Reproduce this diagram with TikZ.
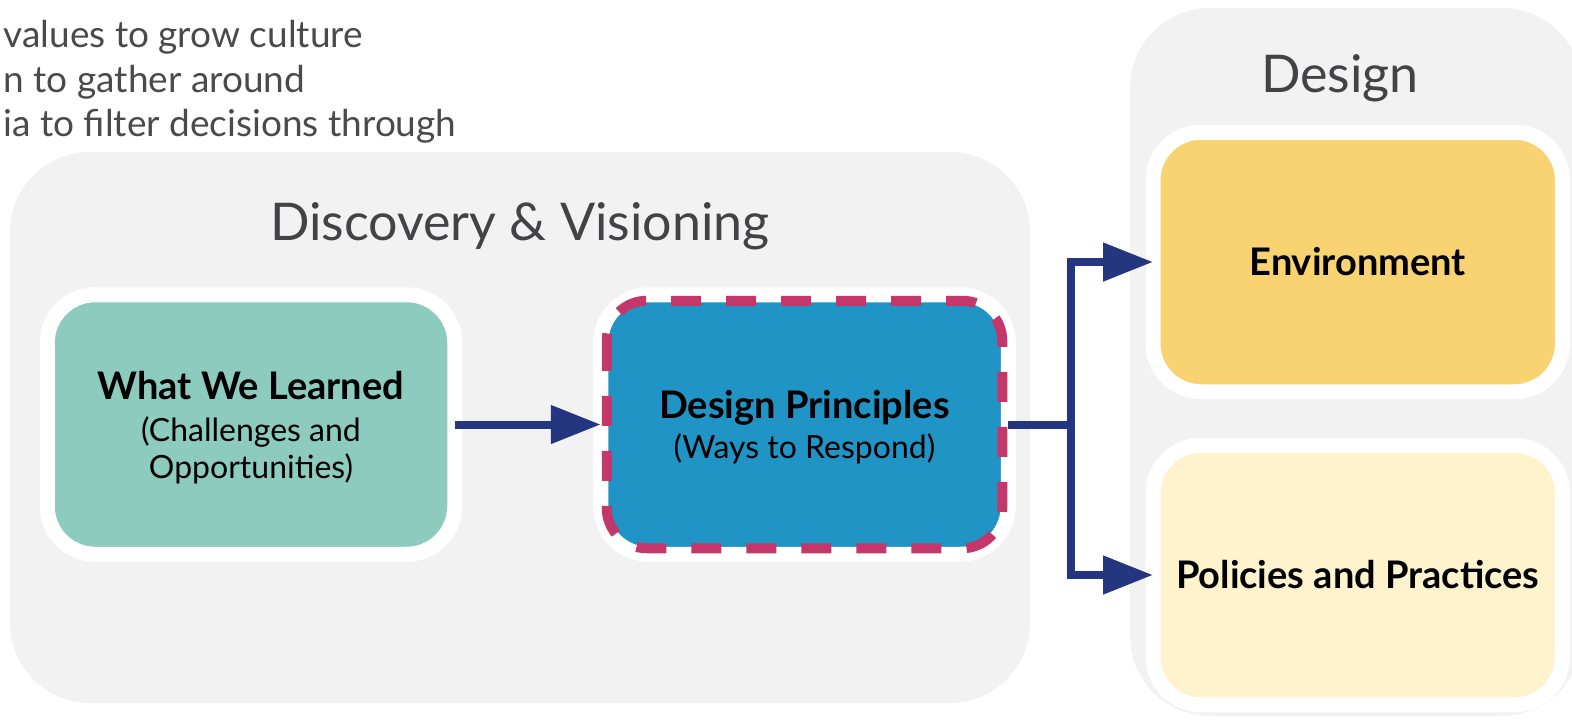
\documentclass[tikz,border=0pt]{standalone}
\usepackage{fontspec}
\setmainfont{Lato}
\usepackage{tikz}
\usetikzlibrary{arrows,positioning}
\usetikzlibrary{calc}
\usetikzlibrary{arrows.meta}

\definecolor{panelgray}{HTML}{F2F2F2}
\definecolor{headgray}{HTML}{434244}
\definecolor{introgray}{HTML}{4A4A4A}
\definecolor{learnteal}{HTML}{8DCBBE}
\definecolor{princblue}{HTML}{2094C4}
\definecolor{dashred}{HTML}{C4376A}
\definecolor{arrowblue}{HTML}{24367F}
\definecolor{envyellow}{HTML}{F9D271}
\definecolor{polyellow}{HTML}{FEF3CC}

\begin{document}
\begin{tikzpicture}[x=1pt, y=-1pt, node distance=1cm, auto]

\tikzstyle{panel} = [rectangle, rounded corners=80pt, fill=panelgray, inner sep=0pt]
\tikzstyle{heading} = [text=headgray, font=\fontsize{52}{60}\selectfont]
\tikzstyle{box} = [rectangle, rounded corners=48pt, minimum width=407.5pt, minimum height=259.5pt, draw=white, line width=15pt, outer sep=0pt, text centered, align=center, font=\fontsize{32}{37}\selectfont]
\tikzstyle{arrow} = [line width=8pt, draw=arrowblue, -{Triangle[length=50pt,width=37pt]}]

\useasboundingbox (0,0) rectangle (1572,720);

\node (intro) [anchor=west, align=left, text=introgray, font=\fontsize{37}{44.5}\selectfont] at (0,82) {values to grow culture\\n to gather around\\ia to filter decisions through};

\node (discpanel) [panel, minimum width=1020pt, minimum height=551pt] at (520,427.5) {};
\node (disctitle) [heading] at (520,226) {Discovery \& Visioning};
\node (despanel) [panel, minimum width=452pt, minimum height=708pt] at (1356,362) {};
\node (destitle) [heading] at (1340,78) {Design};

\node (learn) [box, fill=learnteal, text depth=0pt] at (251,424.5) {\textbf{\fontsize{38}{37}\selectfont What We Learned}\\[5pt] (Challenges and\\ Opportunities)};
\node (princ) [box, fill=princblue, text depth=0pt, right of=learn, node distance=553.5pt] {\textbf{\fontsize{38}{37}\selectfont Design Principles}\\[3pt] (Ways to Respond)};
\draw [dashred, line width=10pt, dash pattern=on 30pt off 25pt, rounded corners=40pt] ($(princ.north west)+(6,6)$) rectangle ($(princ.south east)+(-6,-6)$);

\node (env) [box, fill=envyellow, minimum width=409.5pt] at (1357.75,262) {\textbf{\fontsize{38}{37}\selectfont Environment}};
\node (pol) [box, fill=polyellow, minimum width=409.5pt, below of=env, node distance=313pt] {\textbf{\fontsize{38}{37}\selectfont Policies and Practices}};

\coordinate (split) at ($(princ.east)+(62.5,0)$);
\draw [arrow] (learn) -- (princ);
\draw [arrow] (princ.east) -- (split) |- (env.west);
\draw [arrow] (split) |- (pol.west);
\end{tikzpicture}
\end{document}
